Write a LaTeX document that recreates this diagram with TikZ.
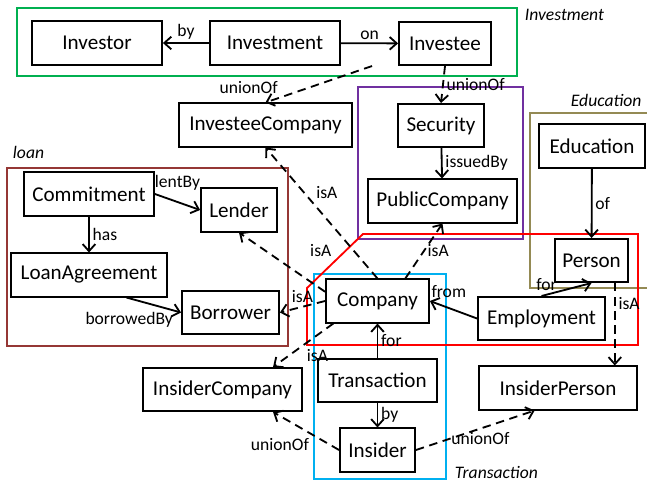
\documentclass[tikz,border=0pt]{standalone}
\usepackage{fontspec}
\setmainfont{Carlito}
\usetikzlibrary{arrows.meta}
\definecolor{grpgreen}{RGB}{0,176,80}
\definecolor{grppurple}{RGB}{112,48,160}
\definecolor{grpolive}{RGB}{148,138,84}
\definecolor{grpbrown}{RGB}{149,55,53}
\definecolor{grpcyan}{RGB}{0,176,240}

\begin{document}
\begin{tikzpicture}[x=0.025cm,y=-0.025cm,
  cls/.style={draw,fill=white,line width=1.3pt,minimum height=1.08cm,inner sep=2pt,font=\fontsize{15}{18}\selectfont},
  rel/.style={line width=1.3pt,-{Straight Barb[length=5pt,width=9pt]}},
  sub/.style={rel,dash pattern=on 6pt off 4pt},
  lbl/.style={font=\fontsize{12.5}{15}\selectfont,inner sep=2pt},
  grp/.style={line width=1.3pt},
  grptitle/.style={font=\fontsize{12.5}{15}\selectfont\itshape,anchor=west}]
\useasboundingbox (0,0) rectangle (647,483);

% module frames
\draw[grp,grpgreen] (17,8) rectangle (517,76);
\draw[grp,grppurple] (358,87) rectangle (523,239);
\draw[grp,grpolive] (660,113) -- (530,113) -- (530,288) -- (660,288);
\draw[grp,grpbrown] (7,168) rectangle (288,346);
\draw[grp,grpcyan] (314,274) rectangle (446,479);
\draw[grp,red] (363,234) -- (638,234) -- (638,345) -- (307,345) -- (307,288) -- cycle;
\node[grptitle] (tinv) at (520,15) {Investment};
\node[grptitle] (tedu) at (566,100) {Education};
\node[grptitle] (tloan) at (8,152) {loan};
\node[grptitle] (ttra) at (450,472) {Transaction};

% classes
\node[cls,minimum width=3.25cm] (Investor) at (97,43) {Investor};
\node[cls,minimum width=3.25cm] (Investment) at (275,43) {Investment};
\node[cls,minimum width=2.3cm] (Investee) at (445,43.5) {Investee};
\node[cls,minimum width=4.325cm] (InvesteeCompany) at (265.5,125) {InvesteeCompany};
\node[cls,minimum width=2.15cm] (Security) at (441,125.5) {Security};
\node[cls,minimum width=3.725cm] (PublicCompany) at (442.5,201) {PublicCompany};
\node[cls,minimum width=2.65cm] (Education) at (592,146) {Education};
\node[cls,minimum width=1.825cm] (Person) at (591.5,260.5) {Person};
\node[cls,minimum width=3.25cm] (Commitment) at (89,194) {Commitment};
\node[cls,minimum width=1.9cm] (Lender) at (239,210) {Lender};
\node[cls,minimum width=3.9cm] (LoanAgreement) at (89,275) {LoanAgreement};
\node[cls,minimum width=2.425cm] (Borrower) at (230.5,312.5) {Borrower};
\node[cls,minimum width=2.575cm] (Company) at (377.5,301) {Company};
\node[cls,minimum width=3.175cm] (Employment) at (541.5,318.5) {Employment};
\node[cls,minimum width=2.975cm] (Transaction) at (377.5,380.5) {Transaction};
\node[cls,minimum width=1.875cm] (Insider) at (377.5,450) {Insider};
\node[cls,minimum width=3.975cm] (InsiderCompany) at (222.5,389.5) {InsiderCompany};
\node[cls,minimum width=3.95cm] (InsiderPerson) at (558,388) {InsiderPerson};

\coordinate (ivsw) at ([xshift=-0.65cm]Investee.south west);

% relations
\draw[rel] (Investment) -- (Investor) node[lbl,midway,above]{by};
\draw[rel] (Investment) -- (Investee) node[lbl,midway,above]{on};
\draw[sub] (ivsw) -- (InvesteeCompany.north) node[lbl,pos=0.85,anchor=south east]{unionOf};
\draw[sub] (Investee.south) -- (Security.north) node[lbl,midway,right]{unionOf};
\draw[rel] (Security) -- (PublicCompany) node[lbl,midway,right]{issuedBy};
\draw[rel] (Education) -- (Person) node[lbl,midway,right]{of};
\draw[rel] (Commitment.east) -- (Lender.west) node[lbl,midway,above=6pt]{lentBy};
\draw[rel] (Commitment) -- (LoanAgreement) node[lbl,midway,right]{has};
\draw[rel] (LoanAgreement.-31) -- (Borrower.west) node[lbl,pos=0.05,below=7pt]{borrowedBy};
\draw[sub] (Company.170) -- (Lender.south) node[lbl,pos=0.05,above=20pt]{isA};
\draw[sub] (Company.west) -- (Borrower.east) node[lbl,midway,above]{isA};
\draw[sub] (Company.north) -- (InvesteeCompany.south) node[lbl,pos=0.58,above right]{isA};
\draw[sub] (Company.39) -- (PublicCompany.south) node[lbl,midway,right]{isA};
\draw[sub] (Company.207) -- (InsiderCompany.24) node[lbl,midway,below right]{isA};
\draw[rel] (Transaction) -- (Company) node[lbl,midway,right]{for};
\draw[rel] (Transaction) -- (Insider) node[lbl,midway,right]{by};
\draw[sub] (Insider.west) -- (InsiderCompany.-24) node[lbl,pos=0.4,below left]{unionOf};
\draw[sub] (Insider.east) -- (InsiderPerson.-136) node[lbl,pos=0.28,anchor=west,inner sep=1pt]{unionOf};
\draw[rel] (Employment.west) -- (Company.east) node[lbl,pos=0.6,above=5pt]{from};
\draw[rel] (Employment.north) -- (Person.south) node[lbl,pos=0.1,above]{for};
\draw[sub] (Person.-44) -- (Person.-44 |- InsiderPerson.north) node[lbl,pos=0.25,right]{isA};
\end{tikzpicture}
\end{document}
